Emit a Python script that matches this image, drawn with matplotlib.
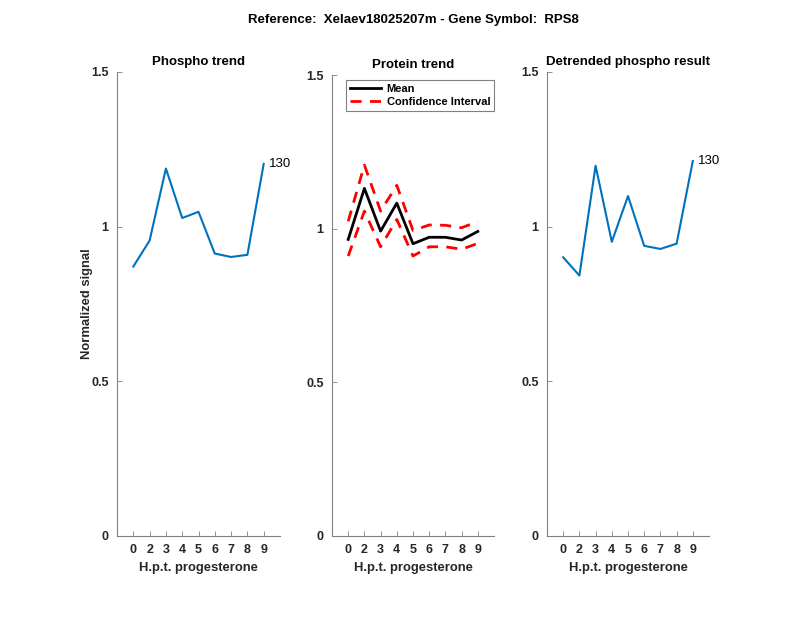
import matplotlib
matplotlib.use("Agg")
import matplotlib.pyplot as plt
import numpy as np

plt.rcParams['font.family'] = ['Liberation Sans', 'DejaVu Sans']

tick_labels = ['0', '2', '3', '4', '5', '6', '7', '8', '9']
phospho = [0.871, 0.955, 1.188, 1.028, 1.048, 0.913, 0.902, 0.909, 1.203]
protein_mean = [0.965, 1.131, 0.992, 1.083, 0.951, 0.972, 0.972, 0.963, 0.991]
protein_upper = [1.024, 1.207, 1.057, 1.141, 0.994, 1.012, 1.011, 1.003, 1.023]
protein_lower = [0.911, 1.057, 0.941, 1.030, 0.911, 0.941, 0.941, 0.933, 0.952]
detrended = [0.901, 0.842, 1.197, 0.951, 1.099, 0.938, 0.928, 0.945, 1.212]
end_label = '130'

W, H = 800, 618
fig = plt.figure(figsize=(8, 6.18), dpi=100)

def ax_rect(l, r, t, b):
    return [l / W, 1 - b / H, (r - l) / W, (b - t) / H]

axcol = '#262626'
blue = '#0072BD'

def style(ax, title):
    x = np.arange(1, len(tick_labels) + 1)
    ax.set_xlim(0, 10)
    ax.set_ylim(0, 1.5)
    ax.set_xticks(x)
    ax.set_xticklabels(tick_labels, fontsize=9, fontweight='bold', color=axcol)
    ax.set_yticks([0, 0.5, 1, 1.5])
    ax.set_yticklabels(['0', '0.5', '1', '1.5'], fontsize=9, fontweight='bold', color=axcol)
    ax.tick_params(direction='in', length=3.5, width=0.6, color='#808080', pad=6)
    for s in ['top', 'right']:
        ax.spines[s].set_visible(False)
    for s in ['left', 'bottom']:
        ax.spines[s].set_color('#808080')
        ax.spines[s].set_linewidth(0.8)
    ax.set_xlabel('H.p.t. progesterone', fontsize=9.4, fontweight='bold', color=axcol, labelpad=4)
    ax.set_title(title, fontsize=9.5, fontweight='bold', pad=5)
    return x

ax1 = fig.add_axes(ax_rect(117, 280, 72, 536))
x = style(ax1, 'Phospho trend')
ax1.plot(x, phospho, color=blue, lw=1.5)
ax1.text(x[-1] + 0.3, phospho[-1], end_label, fontsize=9.5, va='center', ha='left')
ax1.set_ylabel('Normalized signal', fontsize=9.4, fontweight='bold', color=axcol, labelpad=-1)

ax2 = fig.add_axes(ax_rect(332, 494, 75, 536))
x = style(ax2, 'Protein trend')
ax2.plot(x, protein_mean, color='black', lw=2, label='Mean')
ax2.plot(x, protein_upper, color='red', lw=2, ls=(0, (4, 3)), label='Confidence Interval')
ax2.plot(x, protein_lower, color='red', lw=2, ls=(0, (4, 3)))
leg = ax2.legend(loc='upper left', bbox_to_anchor=(346 / W, 1 - 80 / H),
                 bbox_transform=fig.transFigure, fancybox=False, framealpha=1,
                 prop={'size': 8, 'weight': 'bold'}, handlelength=2.8,
                 borderpad=0.35, labelspacing=0.25, handletextpad=0.5, borderaxespad=0)
leg.get_frame().set_edgecolor('#808080')
leg.get_frame().set_linewidth(0.8)

ax3 = fig.add_axes(ax_rect(547, 709, 72, 536))
x = style(ax3, 'Detrended phospho result')
ax3.plot(x, detrended, color=blue, lw=1.5)
ax3.text(x[-1] + 0.3, detrended[-1], end_label, fontsize=9.5, va='center', ha='left')

fig.text(413 / W, 1 - 20 / H, 'Reference:  Xelaev18025207m - Gene Symbol:  RPS8',
         fontsize=9.5, fontweight='bold', ha='center', va='center')

fig.savefig('out.png', dpi=100, facecolor='white')
